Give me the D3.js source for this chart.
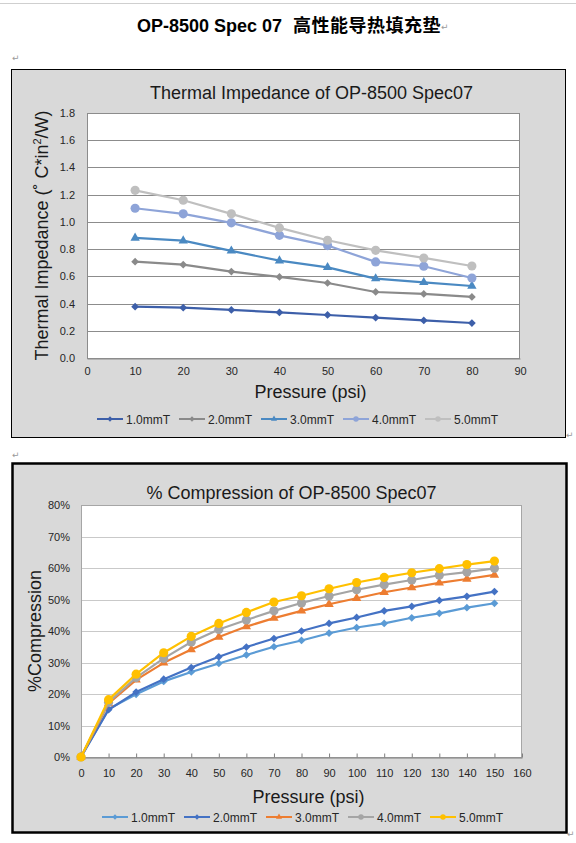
<!DOCTYPE html>
<html>
<head>
<meta charset="utf-8">
<script src="https://cdn.jsdelivr.net/npm/d3@7"></script>
<style>
  body { margin: 0; background: #fff; }
  text { font-family: "Liberation Sans", Arial, sans-serif; }
</style>
</head>
<body>
<div id="page"></div>
<script>
//data for chart 1 (thermal impedance)
var tiPressure = [10, 20, 30, 40, 50, 60, 70, 80];
var ti1 = [0.377, 0.370, 0.353, 0.335, 0.316, 0.296, 0.276, 0.257];
var ti2 = [0.708, 0.686, 0.635, 0.596, 0.551, 0.485, 0.471, 0.449];
var ti3 = [0.882, 0.862, 0.787, 0.715, 0.666, 0.583, 0.556, 0.529];
var ti4 = [1.100, 1.059, 0.993, 0.901, 0.826, 0.706, 0.674, 0.588];
var ti5 = [1.232, 1.159, 1.059, 0.956, 0.865, 0.791, 0.735, 0.676];
var tiXTicks = [0, 10, 20, 30, 40, 50, 60, 70, 80, 90];
var tiYTicks = [0, 0.2, 0.4, 0.6, 0.8, 1.0, 1.2, 1.4, 1.6, 1.8];

//data for chart 2 (% compression)
var cpPressure = [0, 10, 20, 30, 40, 50, 60, 70, 80, 90, 100, 110, 120, 130, 140, 150];
var cp1 = [0, 15.2, 19.9, 24.0, 27.0, 29.7, 32.4, 35.0, 37.0, 39.3, 41.1, 42.4, 44.2, 45.6, 47.4, 48.8];
var cp2 = [0, 15.0, 20.6, 24.7, 28.4, 31.8, 34.9, 37.6, 40.0, 42.4, 44.3, 46.4, 47.8, 49.7, 51.0, 52.5];
var cp3 = [0, 17.0, 24.5, 29.9, 34.1, 38.1, 41.4, 44.1, 46.4, 48.5, 50.4, 52.3, 53.8, 55.3, 56.5, 57.8];
var cp4 = [0, 17.4, 25.2, 31.3, 36.5, 40.5, 43.5, 46.4, 48.9, 51.1, 53.1, 54.7, 56.2, 57.7, 58.7, 59.9];
var cp5 = [0, 18.2, 26.3, 33.1, 38.3, 42.4, 45.9, 49.2, 51.2, 53.4, 55.4, 57.0, 58.5, 59.8, 61.1, 62.2];
var cpXTicks = [0, 10, 20, 30, 40, 50, 60, 70, 80, 90, 100, 110, 120, 130, 140, 150, 160];
var cpYTicks = [0, 10, 20, 30, 40, 50, 60, 70, 80];

var seriesNames = ["1.0mmT", "2.0mmT", "3.0mmT", "4.0mmT", "5.0mmT"];
var seriesShapes = ["diamond", "diamond", "triangle", "circle", "circle"];
var tiColors = ["#3d5fa9", "#8a8a8a", "#4a89c2", "#8ea4d8", "#bfbfbf"];
var cpColors = ["#5b9bd5", "#4472c4", "#ed7d31", "#a5a5a5", "#ffc000"];

var svg = d3.select("#page").append("svg")
    .attr("width", 576)
    .attr("height", 843);

//page edge line
svg.append("line")
  .attr("x1", 0).attr("x2", 576)
  .attr("y1", 3.5).attr("y2", 3.5)
  .attr("stroke", "#cfcfcf");

//document heading
var head = svg.append("text")
  .attr("x", 137)
  .attr("y", 32)
  .attr("fill", "#000")
  .attr("font-weight", "bold");
head.append("tspan").attr("font-size", 18).text("OP-8500 Spec 07");
head.append("tspan")
  .attr("dx", 11)
  .attr("font-size", 18)
  .attr("letter-spacing", 0.5)
  .style("font-family", "'Noto Sans CJK SC', sans-serif")
  .text("高性能导热填充垫");

//word paragraph marks
[[441, 30], [12, 61], [566, 438], [12, 458], [567, 837]].forEach(function(p) {
  svg.append("text")
    .attr("x", p[0]).attr("y", p[1])
    .attr("font-size", 9)
    .attr("fill", "#9a9a9a")
    .style("font-family", "'DejaVu Sans', sans-serif")
    .text("\u21B5");
});

function symbolPath(shape, big) {
  if (shape == "diamond") return d3.symbol(d3.symbolSquare, big ? 30 : 14)();
  if (shape == "triangle") return d3.symbol(d3.symbolTriangle, big ? 38 : 16)();
  return d3.symbol(d3.symbolCircle, big ? 66 : 24)();
}

function markerTransform(shape, x, y) {
  if (shape == "diamond") return "translate(" + x + "," + y + ") rotate(45)";
  return "translate(" + x + "," + y + ")";
}

//generic chart drawer
function drawChart(o) {
  var box = svg.append("g");
  box.append("rect")
    .attr("x", o.box[0]).attr("y", o.box[1])
    .attr("width", o.box[2]).attr("height", o.box[3])
    .attr("fill", "#d9d9d9")
    .attr("stroke", "#000")
    .attr("stroke-width", o.boxStroke);

  var w = o.plot[2], h = o.plot[3];
  var g = svg.append("g")
    .attr("transform", "translate(" + o.plot[0] + "," + o.plot[1] + ")");

  var x = d3.scaleLinear().domain(o.xDomain).range([0, w]);
  var y = d3.scaleLinear().domain(o.yDomain).range([h, 0]);

  g.append("rect")
    .attr("width", w).attr("height", h)
    .attr("fill", "#fff");

  //gridlines
  g.append("g")
    .selectAll("line")
    .data(o.yTicks.slice(1))
    .enter().append("line")
      .attr("x1", 0).attr("x2", w)
      .attr("y1", function(d) { return Math.round(y(d)) + 0.5; })
      .attr("y2", function(d) { return Math.round(y(d)) + 0.5; })
      .attr("stroke", o.gridColor);

  //plot frame (left, right)
  g.append("rect")
    .attr("x", 0.5).attr("y", 0.5)
    .attr("width", w - 1).attr("height", h)
    .attr("fill", "none")
    .attr("stroke", o.frameColor);

  //y axis labels
  var yAxis = g.append("g")
    .call(d3.axisLeft(y).tickValues(o.yTicks).tickSize(0).tickPadding(o.yPad).tickFormat(o.yFormat));
  yAxis.select(".domain").remove();
  yAxis.selectAll("text").attr("font-size", 11).attr("fill", "#262626")
    .style("font-family", "'Liberation Sans', Arial, sans-serif");

  //x axis
  var xAxis = g.append("g")
    .attr("transform", "translate(0," + (h + 0.5) + ")")
    .call(d3.axisBottom(x).tickValues(o.xTicks).tickSizeInner(o.xTickSize).tickSizeOuter(0).tickPadding(o.xPad));
  xAxis.select(".domain").attr("stroke", o.axisColor);
  xAxis.selectAll("line").attr("stroke", o.axisColor);
  xAxis.selectAll("text").attr("font-size", 11).attr("fill", "#262626")
    .style("font-family", "'Liberation Sans', Arial, sans-serif");

  //series lines and markers
  var line = d3.line()
    .x(function(d) { return x(d[0]); })
    .y(function(d) { return y(d[1]); });

  o.series.forEach(function(vals, i) {
    var pts = o.xVals.map(function(p, j) { return [p, vals[j]]; });
    var sg = g.append("g");
    sg.append("path")
      .datum(pts)
      .attr("d", line)
      .attr("fill", "none")
      .attr("stroke", o.colors[i])
      .attr("stroke-width", 2.2)
      .attr("stroke-linejoin", "round");
    sg.selectAll("path.mk")
      .data(pts)
      .enter().append("path")
        .attr("class", "mk")
        .attr("d", symbolPath(seriesShapes[i], true))
        .attr("transform", function(d) { return markerTransform(seriesShapes[i], x(d[0]), y(d[1])); })
        .attr("fill", o.colors[i]);
  });

  //titles
  svg.append("text")
    .attr("x", o.plot[0] + w / 2 + o.titleShift)
    .attr("y", o.titleY)
    .attr("text-anchor", "middle")
    .attr("font-size", 18)
    .attr("fill", "#1a1a1a")
    .text(o.title);

  svg.append("text")
    .attr("x", o.plot[0] + w / 2 + 7)
    .attr("y", o.xLabelY)
    .attr("text-anchor", "middle")
    .attr("font-size", 18)
    .attr("fill", "#1a1a1a")
    .text("Pressure (psi)");

  var yl = svg.append("text")
    .attr("transform", "translate(" + o.yLabelX + "," + (o.plot[1] + h / 2) + ") rotate(-90)")
    .attr("text-anchor", "middle")
    .attr("font-size", 18)
    .attr("fill", "#1a1a1a");
  o.yLabel(yl);

  //legend
  var leg = svg.selectAll(null)
    .data(seriesNames)
    .enter().append("g")
      .attr("transform", function(d, i) { return "translate(" + (o.legendX + i * 82) + "," + o.legendY + ")"; });
  leg.append("line")
    .attr("x1", 0).attr("x2", 26)
    .attr("stroke", function(d, i) { return o.colors[i]; })
    .attr("stroke-width", 2);
  leg.append("path")
    .attr("d", function(d, i) { return symbolPath(seriesShapes[i], false); })
    .attr("transform", function(d, i) { return markerTransform(seriesShapes[i], 13, 0); })
    .attr("fill", function(d, i) { return o.colors[i]; });
  leg.append("text")
    .attr("x", 29)
    .attr("y", 4.5)
    .attr("font-size", 12)
    .attr("fill", "#262626")
    .text(function(d) { return d; });
}

drawChart({
  box: [11.5, 69.5, 554, 368], boxStroke: 1,
  plot: [87, 113, 433, 245],
  xDomain: [0, 90], yDomain: [0, 1.8],
  xTicks: tiXTicks, yTicks: tiYTicks,
  xVals: tiPressure, series: [ti1, ti2, ti3, ti4, ti5],
  colors: tiColors,
  gridColor: "#8c8c8c", frameColor: "#8c8c8c", axisColor: "#8c8c8c",
  xTickSize: 0, xPad: 9, yPad: 12,
  yFormat: d3.format(".1f"),
  title: "Thermal Impedance of OP-8500 Spec07", titleY: 99, titleShift: 8,
  xLabelY: 398, yLabelX: 48,
  yLabel: function(t) {
    t.append("tspan").text("Thermal Impedance (\u02DA C*in");
    t.append("tspan").attr("font-size", 11).attr("dy", -7).text("2");
    t.append("tspan").attr("dy", 7).text("/W)");
  },
  legendX: 97, legendY: 419
});

drawChart({
  box: [12.5, 463.5, 554, 369], boxStroke: 2.5,
  plot: [81, 505, 441, 252],
  xDomain: [0, 160], yDomain: [0, 80],
  xTicks: cpXTicks, yTicks: cpYTicks,
  xVals: cpPressure, series: [cp1, cp2, cp3, cp4, cp5],
  colors: cpColors,
  gridColor: "#c9c9c9", frameColor: "#a6a6a6", axisColor: "#7f7f7f",
  xTickSize: -4, xPad: 12, yPad: 11,
  yFormat: function(d) { return d + "%"; },
  title: "% Compression of OP-8500 Spec07", titleY: 499, titleShift: -10,
  xLabelY: 803, yLabelX: 41,
  yLabel: function(t) { t.text("%Compression"); },
  legendX: 102, legendY: 817
});
</script>
</body>
</html>
